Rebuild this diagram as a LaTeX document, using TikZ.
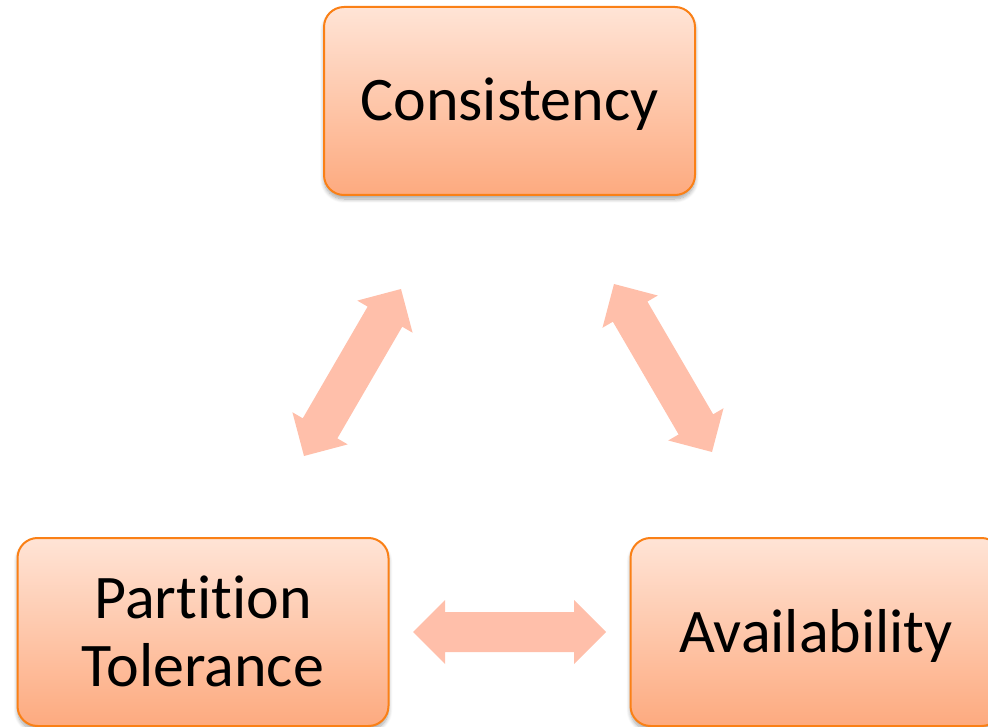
\documentclass[tikz,border=0pt]{standalone}
\usepackage{fontspec}
\setmainfont{Carlito}[Ligatures=NoCommon]
\usetikzlibrary{calc,shadows.blur}

\definecolor{boxtop}{RGB}{255,228,214}
\definecolor{boxbottom}{RGB}{253,170,127}
\definecolor{boxedge}{RGB}{250,128,22}
\definecolor{arrowfill}{RGB}{255,191,170}

% two-headed block arrow between two named tip coordinates
\newcommand\twowayarrow[2]{%
  \coordinate (#1h) at ($(#1)!32pt!(#2)$);
  \coordinate (#2h) at ($(#2)!32pt!(#1)$);
  \fill[arrowfill]
    (#1) -- ($(#1h)!32pt!90:(#2)$) -- ($(#1h)!20pt!90:(#2)$)
    -- ($(#2h)!20pt!-90:(#1)$) -- ($(#2h)!32pt!-90:(#1)$) -- (#2)
    -- ($(#2h)!32pt!90:(#1)$) -- ($(#2h)!20pt!90:(#1)$)
    -- ($(#1h)!20pt!-90:(#2)$) -- ($(#1h)!32pt!-90:(#2)$) -- cycle;}

\begin{document}
\begin{tikzpicture}[x=1pt,y=-1pt,
  capbox/.style={rectangle, rounded corners=20pt, draw=boxedge, line width=2pt,
    top color=boxtop, bottom color=boxbottom,
    minimum width=371pt, minimum height=188pt, inner sep=0pt,
    font=\fontsize{62}{68}\selectfont, align=center,
    text height=40pt, text depth=0pt,
    blur shadow={shadow xshift=0pt, shadow yshift=-4pt, shadow opacity=35,
      shadow blur radius=4pt, shadow blur steps=8}}]
  \useasboundingbox (0,0) rectangle (988,727);
  \clip (0,0) rectangle (988,727);

  \node[capbox] (C) at (509.5,101) {Consistency};
  \node[capbox, text height=108pt] (P) at (203,632) {Partition\\Tolerance};
  \node[capbox] (A) at (816,632) {Availability};

  % arrow tips
  \coordinate (cpl) at (304,456);
  \coordinate (cpu) at (401,289);
  \coordinate (cau) at (614,284);
  \coordinate (cal) at (712,452);
  \coordinate (pal) at (413,632);
  \coordinate (par) at (606,632);

  \twowayarrow{cpl}{cpu}
  \twowayarrow{cau}{cal}
  \twowayarrow{pal}{par}
\end{tikzpicture}
\end{document}
